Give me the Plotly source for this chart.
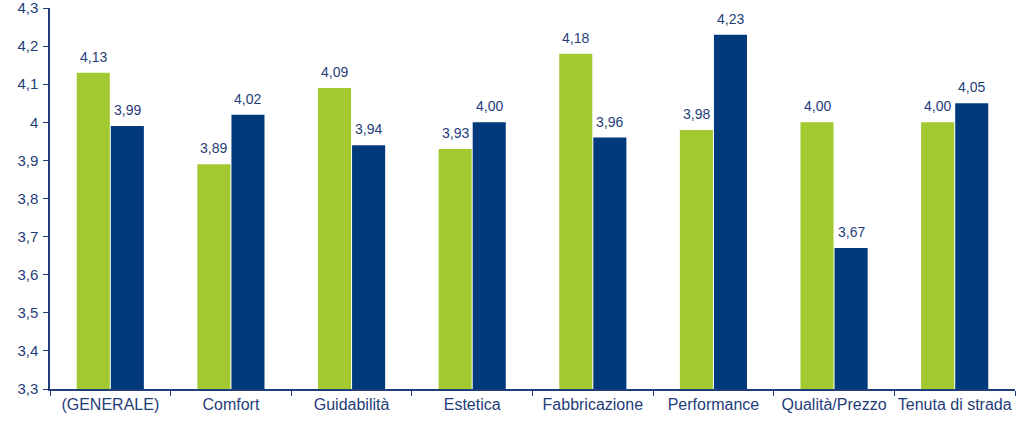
import plotly.graph_objects as go

categories = ["(GENERALE)", "Comfort", "Guidabilità", "Estetica", "Fabbricazione",
              "Performance", "Qualità/Prezzo", "Tenuta di strada"]
series_green = [4.13, 3.89, 4.09, 3.93, 4.18, 3.98, 4.00, 4.00]
series_blue = [3.99, 4.02, 3.94, 4.00, 3.96, 4.23, 3.67, 4.05]
y_ticks = [3.3, 3.4, 3.5, 3.6, 3.7, 3.8, 3.9, 4.0, 4.1, 4.2, 4.3]

GREEN = "#A2CA30"
BLUE = "#00397C"
TXT = "#1F3D78"
FONT = "Liberation Sans, Arial, sans-serif"

fig = go.Figure()
for vals, col, shift in [(series_green, GREEN, -17), (series_blue, BLUE, 17)]:
    fig.add_trace(go.Bar(
        x=categories, y=vals, marker=dict(color=col, line=dict(width=0)),
        showlegend=False,
    ))
    for c, v in zip(categories, vals):
        fig.add_annotation(
            x=c, y=v, text=f"{v:.2f}".replace(".", ","), showarrow=False,
            xshift=shift, yshift=6, yanchor="bottom",
            font=dict(size=14, color=TXT, family=FONT),
        )

fig.update_layout(
    width=1033, height=424,
    margin=dict(l=50, r=18, t=8, b=35, autoexpand=False),
    paper_bgcolor="white", plot_bgcolor="white",
    barmode="group", bargap=0.435, bargroupgap=0.03,
    separators=",.",
    font=dict(family=FONT, color=TXT, size=15),
)
fig.update_xaxes(
    type="category", tickson="boundaries", ticks="outside", ticklen=5,
    tickcolor=TXT, showline=True, linecolor=TXT, linewidth=1.5,
    tickfont=dict(size=16, color=TXT), tickangle=0, showgrid=False, automargin=False,
)
fig.update_yaxes(
    range=[3.3, 4.3], tickvals=y_ticks, ticks="outside", ticklen=5,
    tickcolor=TXT, showline=True, linecolor=TXT, linewidth=1.5,
    tickfont=dict(size=15, color=TXT), showgrid=False, zeroline=False,
    ticklabelstandoff=2, automargin=False, ticklabeloverflow="allow",
)
fig.write_html("out.html", config={"displayModeBar": False},
               post_script="document.body.style.margin='0';document.body.style.padding='0';")
